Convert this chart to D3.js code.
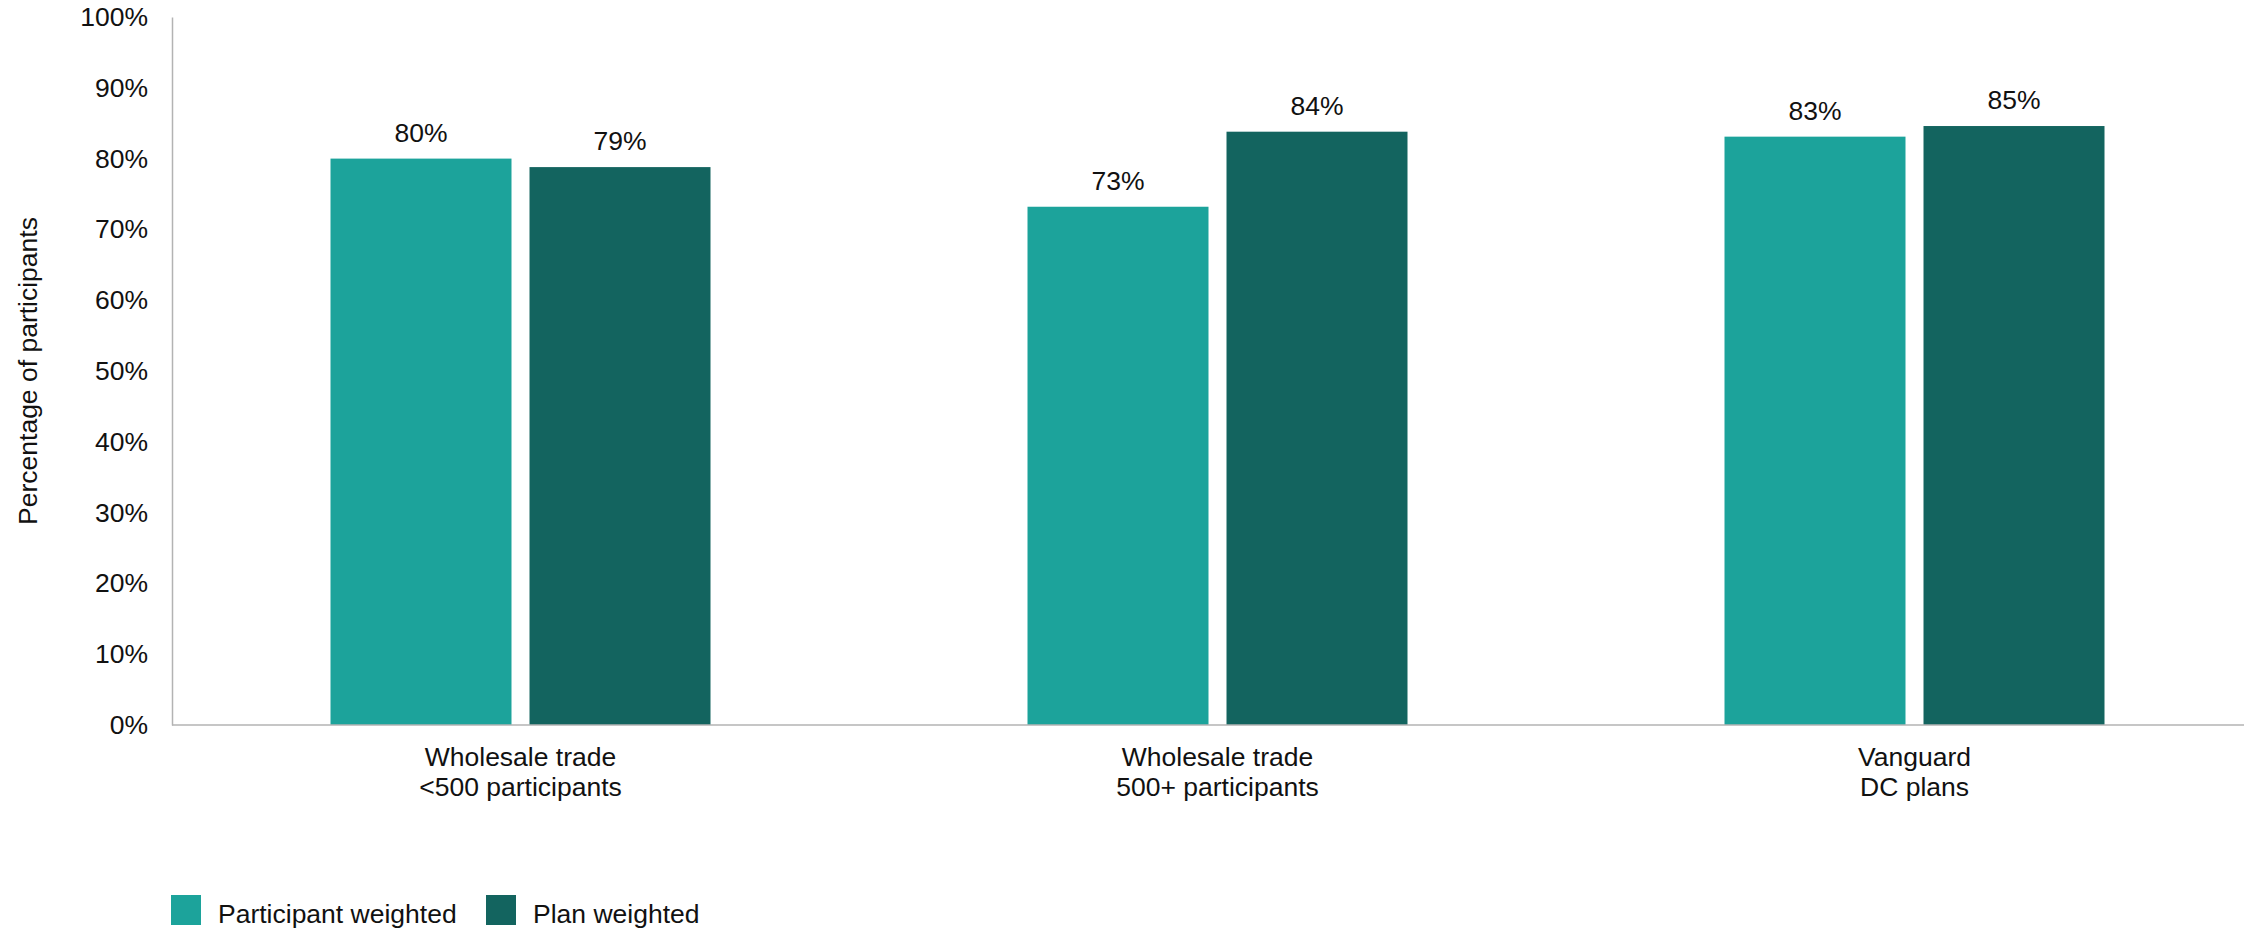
<!DOCTYPE html>
<html>
<head>
<meta charset="utf-8">
<script src="https://cdn.jsdelivr.net/npm/d3@7"></script>
<style>
  html, body { margin: 0; padding: 0; background: #fff; }
  svg { display: block; }
  text { font-family: "Liberation Sans", Arial, sans-serif; fill: #111; }
</style>
</head>
<body>
<svg id="chart" width="2244" height="931"></svg>
<script>
const categories = [
  ["Wholesale trade", "<500 participants"],
  ["Wholesale trade", "500+ participants"],
  ["Vanguard", "DC plans"]
];
const seriesNames = ["Participant weighted", "Plan weighted"];
const participantWeighted = [80.0, 73.2, 83.1];
const planWeighted = [78.8, 83.8, 84.6];
const valueLabels = [["80%", "79%"], ["73%", "84%"], ["83%", "85%"]];
const yTicks = [0, 10, 20, 30, 40, 50, 60, 70, 80, 90, 100];
const colors = ["#1ca39b", "#13645f"];

const svg = d3.select("#chart");
const fontSize = 26.5;

const y = d3.scaleLinear().domain([0, 100]).range([725, 17]);
const x0 = d3.scaleBand().domain(d3.range(categories.length)).range([172, 2263]).paddingInner(0).paddingOuter(0);
const x1 = d3.scaleBand().domain(d3.range(seriesNames.length)).range([0, 380]).paddingInner(0.0905).paddingOuter(0);

const data = categories.map((c, i) => ({
  i, label: c, values: [participantWeighted[i], planWeighted[i]]
}));

// bars
const g = svg.selectAll("g.group").data(data).join("g")
  .attr("class", "group")
  .attr("transform", d => `translate(${x0(d.i) + x0.bandwidth() / 2 - 190},0)`);

g.selectAll("rect").data(d => d.values.map((v, s) => ({ v, s, i: d.i }))).join("rect")
  .attr("x", d => x1(d.s))
  .attr("width", x1.bandwidth())
  .attr("y", d => y(d.v))
  .attr("height", d => y(0) - y(d.v))
  .attr("fill", d => colors[d.s]);

g.selectAll("text.val").data(d => d.values.map((v, s) => ({ v, s, i: d.i }))).join("text")
  .attr("class", "val")
  .attr("x", d => x1(d.s) + x1.bandwidth() / 2)
  .attr("y", d => y(d.v) - 17)
  .attr("text-anchor", "middle")
  .attr("font-size", fontSize)
  .text(d => valueLabels[d.i][d.s]);

// y axis
const yAxis = d3.axisLeft(y).tickValues(yTicks).tickSize(0).tickPadding(24).tickFormat(d => d + "%");
const ya = svg.append("g").attr("transform", "translate(172,0)").call(yAxis);
ya.select(".domain").attr("stroke", "#b3b3b3").attr("stroke-width", 1.5);
ya.selectAll("text").attr("font-size", fontSize).attr("font-family", "Liberation Sans, Arial, sans-serif").attr("fill", "#111");

// x axis
const xAxis = d3.axisBottom(x0).tickSize(0).tickFormat("");
const xa = svg.append("g").attr("transform", `translate(0,${y(0)})`).call(xAxis);
xa.select(".domain").attr("d", `M172,0H2244`).attr("stroke", "#b3b3b3").attr("stroke-width", 1.5);

svg.selectAll("text.cat").data(data).join("text")
  .attr("class", "cat")
  .attr("text-anchor", "middle")
  .attr("font-size", fontSize)
  .attr("x", d => x0(d.i) + x0.bandwidth() / 2)
  .attr("y", 766)
  .selectAll("tspan").data(d => d.label).join("tspan")
  .attr("x", function() { return d3.select(this.parentNode).attr("x"); })
  .attr("dy", (d, k) => k === 0 ? 0 : 29.5)
  .text(d => d);

// y title
svg.append("text")
  .attr("transform", "translate(37,371) rotate(-90)")
  .attr("text-anchor", "middle")
  .attr("font-size", fontSize)
  .text("Percentage of participants");

// legend
const legendX = [171, 486];
const lg = svg.selectAll("g.legend").data(seriesNames).join("g")
  .attr("class", "legend")
  .attr("transform", (d, i) => `translate(${legendX[i]},895)`);
lg.append("rect").attr("width", 30).attr("height", 30).attr("fill", (d, i) => colors[i]);
lg.append("text").attr("x", 47).attr("y", 27.5).attr("font-size", fontSize).text(d => d);
</script>
</body>
</html>
